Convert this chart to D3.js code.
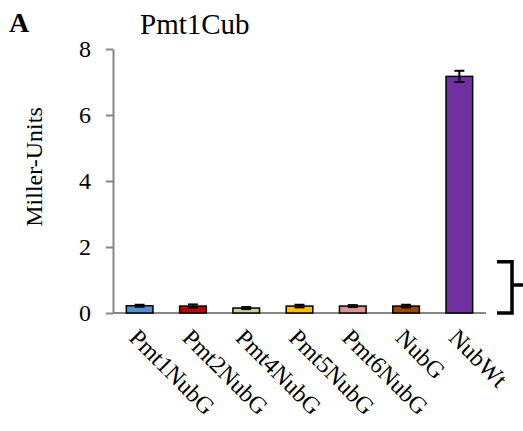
<!DOCTYPE html>
<html>
<head>
<meta charset="utf-8">
<script src="https://cdn.jsdelivr.net/npm/d3@7"></script>
<style>
  body { margin: 0; background: #fff; }
  text { font-family: "Liberation Serif", "Times New Roman", serif; fill: #000; }
</style>
</head>
<body>
<div id="chart"></div>
<script>
const categories = ["Pmt1NubG", "Pmt2NubG", "Pmt4NubG", "Pmt5NubG", "Pmt6NubG", "NubG", "NubWt"];
const values = [0.22, 0.21, 0.15, 0.21, 0.21, 0.21, 7.17];
const errors = [0.03, 0.05, 0.03, 0.04, 0.03, 0.04, 0.17];
const colors = ["#558ED5", "#C00000", "#C3D69B", "#FFC000", "#D99694", "#984807", "#7030A0"];
const yTicks = [0, 2, 4, 6, 8];

const width = 523, height = 431;
const axisColor = "#868686";
const serif = "'Liberation Serif', 'Times New Roman', serif";

const svg = d3.select("#chart").append("svg")
  .attr("width", width)
  .attr("height", height);

const x = d3.scaleBand()
  .domain(categories)
  .range([113, 486])
  .paddingInner(0.5)
  .paddingOuter(0.25);

const y = d3.scaleLinear().domain([0, 8]).range([313, 49]);

// y axis
const yAxis = svg.append("g")
  .attr("transform", "translate(113,0)")
  .call(d3.axisLeft(y).tickValues(yTicks).tickSize(7).tickSizeOuter(0).tickPadding(15));
yAxis.selectAll("path, line").attr("stroke", axisColor).attr("stroke-width", 2);
yAxis.selectAll("text")
  .style("font-family", serif)
  .style("font-size", "24px")
  .attr("fill", "#000");

// x axis line
svg.append("line")
  .attr("x1", 113).attr("x2", 486)
  .attr("y1", y(0)).attr("y2", y(0))
  .attr("stroke", axisColor).attr("stroke-width", 2);

// bars
svg.selectAll("rect.bar").data(values).enter().append("rect")
  .attr("class", "bar")
  .attr("x", (d, i) => x(categories[i]))
  .attr("width", x.bandwidth())
  .attr("y", d => y(d))
  .attr("height", d => y(0) - y(d))
  .attr("fill", (d, i) => colors[i])
  .attr("stroke", "#000")
  .attr("stroke-width", 1.5);

// error bars
const cap = 10;
const eb = svg.selectAll("g.err").data(values).enter().append("g")
  .attr("class", "err")
  .attr("stroke", "#000")
  .attr("stroke-width", 2);
eb.append("line")
  .attr("x1", (d, i) => x(categories[i]) + x.bandwidth() / 2)
  .attr("x2", (d, i) => x(categories[i]) + x.bandwidth() / 2)
  .attr("y1", (d, i) => y(d + errors[i]))
  .attr("y2", (d, i) => y(d - errors[i]));
eb.append("line")
  .attr("x1", (d, i) => x(categories[i]) + x.bandwidth() / 2 - cap / 2)
  .attr("x2", (d, i) => x(categories[i]) + x.bandwidth() / 2 + cap / 2)
  .attr("y1", (d, i) => y(d + errors[i]))
  .attr("y2", (d, i) => y(d + errors[i]));
eb.append("line")
  .attr("x1", (d, i) => x(categories[i]) + x.bandwidth() / 2 - cap / 2)
  .attr("x2", (d, i) => x(categories[i]) + x.bandwidth() / 2 + cap / 2)
  .attr("y1", (d, i) => y(d - errors[i]))
  .attr("y2", (d, i) => y(d - errors[i]));

// x labels, rotated 45deg
svg.selectAll("text.xlab").data(categories).enter().append("text")
  .attr("class", "xlab")
  .attr("transform", d => `translate(${x(d) + x.bandwidth() / 2 - 6},${y(0) + 20}) rotate(45)`)
  .attr("text-anchor", "start")
  .attr("dy", "0.35em")
  .style("font-family", serif)
  .style("font-size", "24px")
  .text(d => d);

// y label
svg.append("text")
  .attr("transform", `translate(42,167) rotate(-90)`)
  .attr("text-anchor", "middle")
  .style("font-family", serif)
  .style("font-size", "24px")
  .text("Miller-Units");

// title and panel letter
svg.append("text")
  .attr("x", 140).attr("y", 34)
  .style("font-family", serif)
  .style("font-size", "29px")
  .text("Pmt1Cub");
svg.append("text")
  .attr("x", 9).attr("y", 32)
  .style("font-family", serif)
  .style("font-size", "28px")
  .style("font-weight", "bold")
  .text("A");

// bracket on the right
const bTop = y(1.55), bBot = y(0), bMid = y(0.85);
svg.append("path")
  .attr("d", `M497,${bTop} H512 V${bBot} H497 M512,${bMid} H523`)
  .attr("fill", "none")
  .attr("stroke", "#000")
  .attr("stroke-width", 3.5);
</script>
</body>
</html>
